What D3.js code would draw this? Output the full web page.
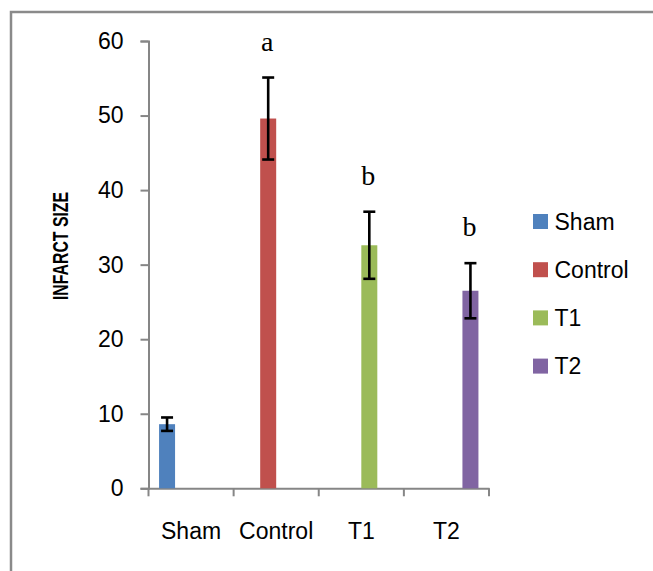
<!DOCTYPE html>
<html>
<head>
<meta charset="utf-8">
<script src="https://cdn.jsdelivr.net/npm/d3@7"></script>
<style>
  html, body { margin: 0; padding: 0; background: #fff; }
  svg { display: block; }
</style>
</head>
<body>
<svg id="chart" width="653" height="571"></svg>
<script>
// ---- data ----
const categories = ["Sham", "Control", "T1", "T2"];
const seriesNames = ["Sham", "Control", "T1", "T2"];
const means = [8.6, 49.6, 32.6, 26.5];
const errors = [0.9, 5.5, 4.5, 3.7];
const letters = ["", "a", "b", "b"];
const yTicks = [0, 10, 20, 30, 40, 50, 60];
const colors = ["#4F81BD", "#C0504D", "#9BBB59", "#8064A2"];
const yTitle = "INFARCT SIZE";

const svg = d3.select("#chart");
const sans = "'Liberation Sans', Arial, sans-serif";
const serif = "'Liberation Serif', 'Times New Roman', serif";

// outer frame (only left and top visible)
svg.append("path")
  .attr("d", "M11,571V12H653")
  .attr("fill", "none")
  .attr("stroke", "#8a8a8a")
  .attr("stroke-width", 2.5);

const y = d3.scaleLinear().domain([0, 60]).range([488.3, 41]);
const x = d3.scaleBand().domain(categories).range([148.5, 489]).paddingInner(0).paddingOuter(0);
const xs = d3.scaleBand().domain(seriesNames).range([0, x.bandwidth()]).paddingInner(0).paddingOuter(0.66);

const axisColor = "#868686";

// y axis
const yAxis = svg.append("g")
  .attr("transform", "translate(148.5,0)")
  .call(d3.axisLeft(y).tickValues(yTicks).tickSize(8).tickSizeOuter(8).tickPadding(17));
yAxis.selectAll("path, line").attr("stroke", axisColor).attr("stroke-width", 2);
yAxis.selectAll("text")
  .attr("font-family", sans).attr("font-size", 23).attr("fill", "#000");

// x axis
const xAxis = svg.append("g")
  .attr("transform", `translate(0,${y(0)})`)
  .call(d3.axisBottom(x).tickSize(0).tickPadding(0).tickSizeOuter(0));
xAxis.select(".domain").attr("stroke", axisColor).attr("stroke-width", 2);
xAxis.selectAll("text")
  .attr("font-family", sans).attr("font-size", 23).attr("fill", "#000")
  .attr("dy", null).attr("y", 51);
// boundary ticks between categories
const bounds = categories.map(c => x(c)).concat([x.range()[1]]);
xAxis.selectAll(".bt").data(bounds).enter().append("line")
  .attr("class", "bt")
  .attr("x1", d => d).attr("x2", d => d)
  .attr("y1", 0).attr("y2", 8)
  .attr("stroke", axisColor).attr("stroke-width", 2);

// bars
const rows = categories.map((c, i) => ({ cat: c, series: seriesNames[i], mean: means[i], err: errors[i], letter: letters[i], color: colors[i] }));
const bx = d => x(d.cat) + xs(d.series);

svg.append("g").selectAll("rect").data(rows).enter().append("rect")
  .attr("x", bx)
  .attr("width", xs.bandwidth())
  .attr("y", d => y(d.mean))
  .attr("height", d => y(0) - y(d.mean))
  .attr("fill", d => d.color);

// error bars
const eb = svg.append("g").attr("stroke", "#000").attr("stroke-width", 2.6).attr("fill", "none");
rows.forEach(d => {
  const cx = bx(d) + xs.bandwidth() / 2;
  const t = y(d.mean + d.err), b = y(d.mean - d.err);
  eb.append("line").attr("x1", cx).attr("x2", cx).attr("y1", t).attr("y2", b);
  eb.append("line").attr("x1", cx - 6).attr("x2", cx + 6).attr("y1", t).attr("y2", t);
  eb.append("line").attr("x1", cx - 6).attr("x2", cx + 6).attr("y1", b).attr("y2", b);
});

// significance letters
svg.append("g").selectAll("text").data(rows.filter(d => d.letter)).enter().append("text")
  .attr("x", d => bx(d) + xs.bandwidth() / 2 - 1)
  .attr("y", d => y(d.mean + d.err) - 27)
  .attr("text-anchor", "middle")
  .attr("font-family", serif).attr("font-size", 28).attr("fill", "#000")
  .text(d => d.letter);

// y title
svg.append("text")
  .attr("transform", "translate(68,246) rotate(-90) scale(0.72,1)")
  .attr("text-anchor", "middle")
  .attr("font-family", sans).attr("font-weight", "bold").attr("font-size", 22)
  .attr("fill", "#000")
  .text(yTitle);

// legend
const lg = svg.append("g").attr("transform", "translate(533,214)");
const li = lg.selectAll("g").data(seriesNames).enter().append("g")
  .attr("transform", (d, i) => `translate(0,${i * 48.2})`);
li.append("rect").attr("width", 15).attr("height", 15).attr("fill", (d, i) => colors[i]);
li.append("text").attr("x", 21.5).attr("y", 15.5)
  .attr("font-family", sans).attr("font-size", 23).attr("fill", "#000")
  .text(d => d);
</script>
</body>
</html>
